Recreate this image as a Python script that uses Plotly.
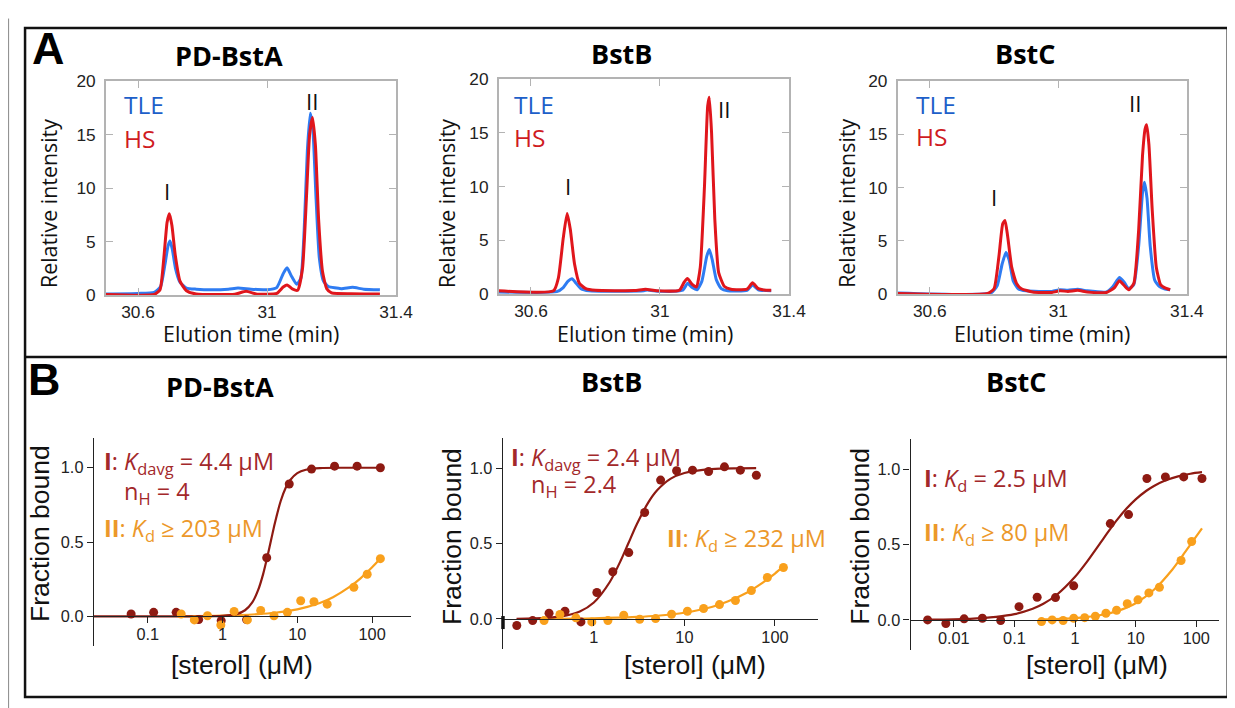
import plotly.graph_objects as go

# ---------------- Panel A data (chromatograms) ----------------
a1_tle_t = [30.50, 30.60, 30.65, 30.670, 30.683, 30.693, 30.699, 30.706, 30.716, 30.73, 30.75, 30.78, 30.83, 30.88, 30.91, 30.95, 31.00, 31.03, 31.05, 31.062, 31.075, 31.092, 31.105, 31.115, 31.125, 31.134, 31.142, 31.152, 31.162, 31.175, 31.19, 31.23, 31.265, 31.30, 31.35]
a1_tle_y = [0.10, 0.15, 0.25, 0.8, 2.8, 4.6, 5.05, 4.3, 2.5, 1.2, 0.65, 0.55, 0.5, 0.55, 0.65, 0.55, 0.5, 0.7, 2.0, 2.55, 1.8, 1.0, 1.6, 6.0, 13.5, 17.0, 15.5, 9.0, 3.5, 1.3, 0.8, 0.6, 0.72, 0.55, 0.5]
a1_hs_t = [30.50, 30.65, 30.668, 30.680, 30.690, 30.697, 30.705, 30.715, 30.73, 30.75, 30.78, 30.90, 30.935, 30.97, 31.03, 31.05, 31.062, 31.08, 31.095, 31.11, 31.122, 31.132, 31.141, 31.150, 31.160, 31.172, 31.185, 31.20, 31.26, 31.35]
a1_hs_y = [0.05, 0.05, 0.5, 3.5, 6.8, 7.6, 6.5, 3.8, 1.3, 0.4, 0.1, 0.08, 0.35, 0.08, 0.15, 0.75, 0.95, 0.55, 0.45, 2.5, 9.0, 15.0, 16.6, 14.0, 7.0, 2.2, 0.6, 0.2, 0.12, 0.1]

a2_tle_t = [30.50, 30.68, 30.70, 30.715, 30.727, 30.74, 30.755, 30.78, 30.95, 30.96, 31.00, 31.07, 31.086, 31.10, 31.115, 31.13, 31.145, 31.153, 31.162, 31.175, 31.19, 31.21, 31.27, 31.287, 31.305, 31.345]
a2_tle_y = [0.2, 0.22, 0.6, 1.2, 1.42, 1.0, 0.5, 0.3, 0.3, 0.38, 0.25, 0.35, 1.0, 0.6, 0.4, 1.2, 3.5, 4.15, 3.2, 1.3, 0.5, 0.3, 0.35, 0.85, 0.4, 0.3]
a2_hs_t = [30.50, 30.67, 30.685, 30.700, 30.712, 30.722, 30.735, 30.75, 30.77, 30.80, 30.92, 30.955, 30.99, 31.06, 31.075, 31.085, 31.10, 31.113, 31.125, 31.138, 31.148, 31.153, 31.160, 31.170, 31.182, 31.20, 31.22, 31.27, 31.287, 31.305, 31.33, 31.345]
a2_hs_y = [0.3, 0.3, 1.5, 5.2, 7.5, 6.0, 2.8, 1.0, 0.5, 0.35, 0.32, 0.45, 0.3, 0.35, 1.1, 1.45, 0.9, 0.65, 2.5, 10.0, 17.5, 18.3, 15.0, 7.0, 2.0, 0.7, 0.45, 0.45, 1.05, 0.5, 0.35, 0.35]

a3_tle_t = [30.50, 30.79, 30.81, 30.825, 30.837, 30.847, 30.86, 30.875, 30.90, 30.98, 31.005, 31.03, 31.06, 31.09, 31.15, 31.17, 31.19, 31.205, 31.219, 31.235, 31.25, 31.262, 31.268, 31.276, 31.286, 31.30, 31.315, 31.33, 31.348]
a3_tle_y = [0.1, 0.1, 0.8, 2.8, 3.9, 3.2, 1.2, 0.5, 0.3, 0.25, 0.4, 0.35, 0.45, 0.3, 0.2, 0.7, 1.55, 1.1, 0.5, 0.9, 4.5, 9.5, 10.5, 9.0, 4.5, 1.3, 0.7, 0.5, 0.4]
a3_hs_t = [30.50, 30.78, 30.80, 30.815, 30.827, 30.834, 30.842, 30.855, 30.87, 30.885, 30.92, 30.98, 31.005, 31.03, 31.06, 31.09, 31.15, 31.175, 31.19, 31.205, 31.219, 31.235, 31.25, 31.262, 31.270, 31.275, 31.282, 31.292, 31.305, 31.318, 31.33, 31.348]
a3_hs_y = [0.05, 0.05, 0.5, 3.5, 6.6, 6.9, 5.5, 2.5, 1.0, 0.5, 0.2, 0.15, 0.3, 0.25, 0.35, 0.2, 0.15, 0.6, 1.25, 0.8, 0.4, 1.0, 6.0, 13.0, 15.5, 15.9, 14.0, 8.0, 2.5, 0.9, 0.6, 0.4]

a_xticks = [30.6, 31, 31.4]
a_xticktext = ["30.6", "31", "31.4"]
a_yticks = [0, 5, 10, 15, 20]

# ---------------- Panel B data (binding) ----------------
b1_I_x = [0.06, 0.12, 0.24, 0.48, 0.96, 2.1, 3.9, 7.8, 15.5, 31.5, 63, 129]
b1_I_y = [0.016, 0.027, 0.027, -0.022, -0.03, -0.022, 0.394, 0.891, 0.991, 1.011, 1.011, 1.0]
b1_II_x = [0.28, 0.42, 0.63, 0.95, 1.43, 2.15, 3.24, 4.88, 7.36, 11.1, 16.7, 25.1, 57, 86, 129]
b1_II_y = [0.016, -0.024, 0.004, -0.058, 0.033, -0.024, 0.04, 0.004, 0.027, 0.105, 0.098, 0.082, 0.196, 0.283, 0.388]
b1_fitI_x = [0.019, 0.5, 1, 1.5, 2, 2.5, 3, 3.5, 4, 4.5, 5, 6, 7, 8, 10, 13, 20, 50, 130]
b1_fitI_y = [0, 0.0002, 0.003, 0.013, 0.041, 0.094, 0.178, 0.286, 0.406, 0.522, 0.625, 0.776, 0.865, 0.916, 0.964, 0.987, 0.998, 1.0, 1.0]
b1_fitII_x = [0.28, 1, 3, 5, 10, 20, 30, 50, 70, 100, 129]
b1_fitII_y = [0.001, 0.005, 0.015, 0.024, 0.047, 0.09, 0.129, 0.198, 0.256, 0.33, 0.389]

b2_I_x = [0.141, 0.211, 0.32, 0.48, 0.72, 1.08, 1.62, 2.43, 3.64, 5.46, 8.2, 12.3, 18.5, 27.7, 41.5, 62.3]
b2_I_y = [-0.044, -0.011, 0.038, 0.051, -0.02, 0.175, 0.313, 0.44, 0.706, 0.921, 0.983, 0.987, 0.978, 1.009, 0.987, 0.953]
b2_II_x = [0.282, 0.422, 0.634, 0.95, 1.43, 2.14, 3.21, 4.81, 7.22, 10.8, 16.3, 24.4, 36.6, 54.9, 82.4, 124]
b2_II_y = [-0.011, 0.029, 0.007, -0.02, -0.011, 0.024, -0.002, 0.002, 0.031, 0.051, 0.069, 0.095, 0.122, 0.188, 0.275, 0.341]
b2_fitI_x = [0.14, 0.3, 0.5, 0.7, 1, 1.5, 2, 2.4, 3, 4, 5, 7, 10, 20, 40, 62]
b2_fitI_y = [0.001, 0.007, 0.023, 0.049, 0.109, 0.245, 0.392, 0.5, 0.631, 0.773, 0.853, 0.929, 0.968, 0.994, 0.999, 1.0]
b2_fitII_x = [0.28, 1, 3, 5, 10, 20, 30, 50, 70, 100, 124]
b2_fitII_y = [0.001, 0.004, 0.013, 0.021, 0.041, 0.079, 0.115, 0.177, 0.232, 0.301, 0.348]

b3_I_x = [0.0037, 0.0074, 0.0148, 0.0296, 0.0593, 0.119, 0.237, 0.475, 0.95, 3.81, 7.62, 15.3, 30.9, 61.9, 124]
b3_I_y = [0.0, -0.024, 0.007, 0.011, -0.004, 0.088, 0.15, 0.148, 0.226, 0.639, 0.699, 0.938, 0.949, 0.949, 0.938]
b3_II_x = [0.28, 0.419, 0.635, 0.951, 1.44, 2.16, 3.23, 4.84, 7.25, 10.9, 16.5, 24.6, 56, 83.8]
b3_II_y = [-0.011, 0.0, -0.004, 0.011, 0.015, 0.024, 0.044, 0.064, 0.108, 0.133, 0.179, 0.217, 0.394, 0.52]
b3_fitI_x = [0.0037, 0.01, 0.03, 0.05, 0.1, 0.2, 0.3, 0.5, 1, 1.5, 2.5, 4, 5, 7, 10, 15, 20, 30, 50, 80, 124]
b3_fitI_y = [0.0015, 0.004, 0.012, 0.0196, 0.038, 0.074, 0.107, 0.167, 0.286, 0.375, 0.5, 0.615, 0.667, 0.737, 0.8, 0.857, 0.889, 0.923, 0.952, 0.970, 0.98]
b3_fitII_x = [0.28, 1, 3, 5, 10, 20, 40, 60, 84, 124]
b3_fitII_y = [0.0035, 0.012, 0.036, 0.059, 0.111, 0.2, 0.333, 0.429, 0.512, 0.608]

b1_xticks = [0.1, 1, 10, 100]
b2_xticks = [1, 10, 100]
b3_xticks = [0.01, 0.1, 1, 10, 100]
b_yticks = [0, 0.5, 1.0]
b_yticktext = ["0.0", "0.5", "1.0"]

titles = ["PD-BstA", "BstB", "BstC"]

# ---------------- styles / geometry ----------------
FW, FH = 1242, 712          # figure size
# mapping from picture pixels to figure pixels (measured from test renders)
AX, BX = 1.0111, -7.99
AY, BY = 1.0289, -17.44
FS = 1.02                   # font compensation

BLUE = "#2f7cf2"
RED = "#e0161c"
BLUE_TXT = "#1d5fc9"
RED_TXT = "#cf1b22"
DRED = "#8e1a12"
DRED_TXT = "#a3282a"
ORANGE = "#f9a01c"
ORANGE_TXT = "#ec982a"
SANS = "Open Sans, Noto Sans, sans-serif"
ARIAL = "Arial, Liberation Sans, sans-serif"


def fx(p):
    return (p * AX + BX) / FW


def fy(p):
    return 1 - (p * AY + BY) / FH


def fs(s):
    return round(s * FS, 1)


fig = go.Figure()
layout = {}

# ---------------- Panel A ----------------
a_boxes = [(106, 397, 80, 294), (500, 791, 78, 293), (900, 1190, 80, 293)]
a_data = [(a1_tle_t, a1_tle_y, a1_hs_t, a1_hs_y),
          (a2_tle_t, a2_tle_y, a2_hs_t, a2_hs_y),
          (a3_tle_t, a3_tle_y, a3_hs_t, a3_hs_y)]
for i, ((x0, x1, y0, y1), (tt, ty, ht, hy)) in enumerate(zip(a_boxes, a_data)):
    n = i + 1
    xa = "x" if n == 1 else f"x{n}"
    ya = "y" if n == 1 else f"y{n}"
    fig.add_trace(go.Scatter(x=tt, y=ty, mode="lines", xaxis=xa, yaxis=ya,
                             line=dict(color=BLUE, width=3, shape="spline", smoothing=0.5),
                             showlegend=False, hoverinfo="skip"))
    fig.add_trace(go.Scatter(x=ht, y=hy, mode="lines", xaxis=xa, yaxis=ya,
                             line=dict(color=RED, width=3, shape="spline", smoothing=0.5),
                             showlegend=False, hoverinfo="skip"))
    axcommon = dict(showline=True, linecolor="#b3b3b3", linewidth=1.5, mirror="allticks",
                    ticks="inside", ticklen=7, tickcolor="#b3b3b3", showgrid=False, zeroline=False,
                    tickfont=dict(family=ARIAL, size=fs(17), color="#222"))
    layout[f"xaxis{'' if n == 1 else n}"] = dict(axcommon, domain=[fx(x0), fx(x1)], range=[30.5, 31.4],
                                                   tickvals=a_xticks, ticktext=a_xticktext, anchor=ya)
    layout[f"yaxis{'' if n == 1 else n}"] = dict(axcommon, domain=[fy(y1), fy(y0)], range=[0, 20],
                                                   tickvals=a_yticks, anchor=xa, ticklabelstandoff=5)

# ---------------- Panel B ----------------
b_boxes = [(94, 412, 437, 645, -1.72, 2.52, b1_xticks),
           (504, 820, 437, 648, -1.006, 2.474, b2_xticks),
           (913, 1222, 438, 649, -2.712, 2.37, b3_xticks)]
b_data = [(b1_I_x, b1_I_y, b1_II_x, b1_II_y, b1_fitI_x, b1_fitI_y, b1_fitII_x, b1_fitII_y),
          (b2_I_x, b2_I_y, b2_II_x, b2_II_y, b2_fitI_x, b2_fitI_y, b2_fitII_x, b2_fitII_y),
          (b3_I_x, b3_I_y, b3_II_x, b3_II_y, b3_fitI_x, b3_fitI_y, b3_fitII_x, b3_fitII_y)]
for i, ((x0, x1, y0, y1, lo, hi, xt), d) in enumerate(zip(b_boxes, b_data)):
    n = i + 4
    xa, ya = f"x{n}", f"y{n}"
    Ix, Iy, IIx, IIy, fIx, fIy, fIIx, fIIy = d
    fig.add_trace(go.Scatter(x=fIIx, y=fIIy, mode="lines", xaxis=xa, yaxis=ya,
                             line=dict(color=ORANGE, width=2.2, shape="spline", smoothing=0.8),
                             showlegend=False, hoverinfo="skip"))
    fig.add_trace(go.Scatter(x=fIx, y=fIy, mode="lines", xaxis=xa, yaxis=ya,
                             line=dict(color=DRED, width=2.2, shape="spline", smoothing=0.8),
                             showlegend=False, hoverinfo="skip"))
    fig.add_trace(go.Scatter(x=Ix, y=Iy, mode="markers", xaxis=xa, yaxis=ya, cliponaxis=False,
                             marker=dict(color=DRED, size=9), showlegend=False, hoverinfo="skip"))
    fig.add_trace(go.Scatter(x=IIx, y=IIy, mode="markers", xaxis=xa, yaxis=ya, cliponaxis=False,
                             marker=dict(color=ORANGE, size=9), showlegend=False, hoverinfo="skip"))
    dy0, dy1 = fy(y1), fy(y0)
    pos = dy0 + (dy1 - dy0) * (0.2 / 1.4)
    layout[f"xaxis{n}"] = dict(type="log", domain=[fx(x0), fx(x1)], range=[lo, hi], anchor="free",
                               position=pos, showline=True, linecolor="#222", linewidth=1.3,
                               ticks="outside", ticklen=6, tickcolor="#222", showgrid=False, zeroline=False,
                               tickvals=xt, ticktext=[("%g" % v) for v in xt], ticklabelstandoff=-3,
                               tickfont=dict(family=ARIAL, size=fs(16), color="#222"))
    layout[f"yaxis{n}"] = dict(domain=[dy0, dy1], range=[-0.2, 1.2], anchor=xa, showline=True,
                               linecolor="#222", linewidth=1.3, ticks="outside", ticklen=6, tickcolor="#222",
                               showgrid=False, zeroline=False, tickvals=b_yticks, ticktext=b_yticktext,
                               tickfont=dict(family=ARIAL, size=fs(16), color="#222"))

annotations = []


def ann(text, x, y, size, color="#111", family=SANS, xanchor="center", yanchor="middle", angle=0):
    annotations.append(dict(text=text, x=fx(x), y=fy(y), xref="paper", yref="paper", showarrow=False,
                            xanchor=xanchor, yanchor=yanchor, textangle=angle,
                            font=dict(size=fs(size), color=color, family=family)))


ann("<b>A</b>", 48, 47, 44, "#000", ARIAL)
ann("<b>B</b>", 44, 378, 44, "#000", ARIAL)
for t, cx, cy in zip(titles, [230, 623, 1028], [54, 52, 52]):
    ann(f"<b>{t}</b>", cx, cy, 26.5, "#000")
for t, cx, cy in zip(titles, [220, 613, 1019], [385, 380, 380]):
    ann(f"<b>{t}</b>", cx, cy, 26.5, "#000")

# A annotations
for lx, ty, hy in [(122, 103, 137), (513, 103, 136), (916, 103, 135)]:
    ann("TLE", lx, ty, 24, BLUE_TXT, xanchor="left")
    ann("HS", lx, hy, 24, RED_TXT, xanchor="left")
for (ix, iy), (iix, iiy) in [((167, 190), (313, 100)), ((569, 185), (726, 108)), ((997, 196), (1139, 102))]:
    ann("I", ix, iy, 22, "#111")
    ann("II", iix, iiy, 22, "#111")
for cx in [48, 447, 848]:
    ann("Relative intensity", cx, 202, 21, "#111", angle=-90)
for cx in [252, 647, 1045]:
    ann("Elution time (min)", cx, 332, 21, "#111")

# B annotations
for cx, cy in [(40, 533), (453, 535), (862, 535)]:
    ann("Fraction bound", cx, cy, 26, "#111", ARIAL, angle=-90)
for cx in [243, 697, 1100]:
    ann("[sterol] (μM)", cx, 664, 26, "#111", ARIAL)

ann("<b>I</b>: <i>K</i><sub>davg</sub> = 4.4 μM", 102, 461, 23, DRED_TXT, xanchor="left")
ann("n<sub>H</sub> = 4", 122, 491, 23, DRED_TXT, xanchor="left")
ann("<b>II</b>: <i>K</i><sub>d</sub> ≥ 203 μM", 102, 528, 23, ORANGE_TXT, xanchor="left")
ann("<b>I</b>: <i>K</i><sub>davg</sub> = 2.4 μM", 510, 457, 23, DRED_TXT, xanchor="left")
ann("n<sub>H</sub> = 2.4", 530, 484, 23, DRED_TXT, xanchor="left")
ann("<b>II</b>: <i>K</i><sub>d</sub> ≥ 232 μM", 667, 538, 23, ORANGE_TXT, xanchor="left")
ann("<b>I</b>: <i>K</i><sub>d</sub> = 2.5 μM", 924, 478, 23, DRED_TXT, xanchor="left")
ann("<b>II</b>: <i>K</i><sub>d</sub> ≥ 80 μM", 924, 532, 23, ORANGE_TXT, xanchor="left")

shapes = [
    dict(type="line", xref="paper", yref="paper", x0=fx(8.5), x1=fx(8.5), y0=fy(17.5), y1=fy(708),
         line=dict(color="#888", width=1)),
    dict(type="rect", xref="paper", yref="paper", x0=fx(25), x1=fx(1231), y0=fy(696), y1=fy(27),
         line=dict(color="#111", width=2.5)),
    dict(type="line", xref="paper", yref="paper", x0=fx(25), x1=fx(1231), y0=fy(356), y1=fy(356),
         line=dict(color="#111", width=2.5)),
    dict(type="rect", xref="paper", yref="paper", x0=fx(502.5), x1=fx(506), y0=fy(628), y1=fy(615),
         fillcolor="#111", line=dict(width=0)),
]

fig.update_layout(**layout)
fig.update_layout(width=FW, height=FH, margin=dict(l=0, r=0, t=0, b=0), autosize=False,
                  paper_bgcolor="white", plot_bgcolor="white", showlegend=False,
                  annotations=annotations, shapes=shapes)
fig.write_html("out.html")
